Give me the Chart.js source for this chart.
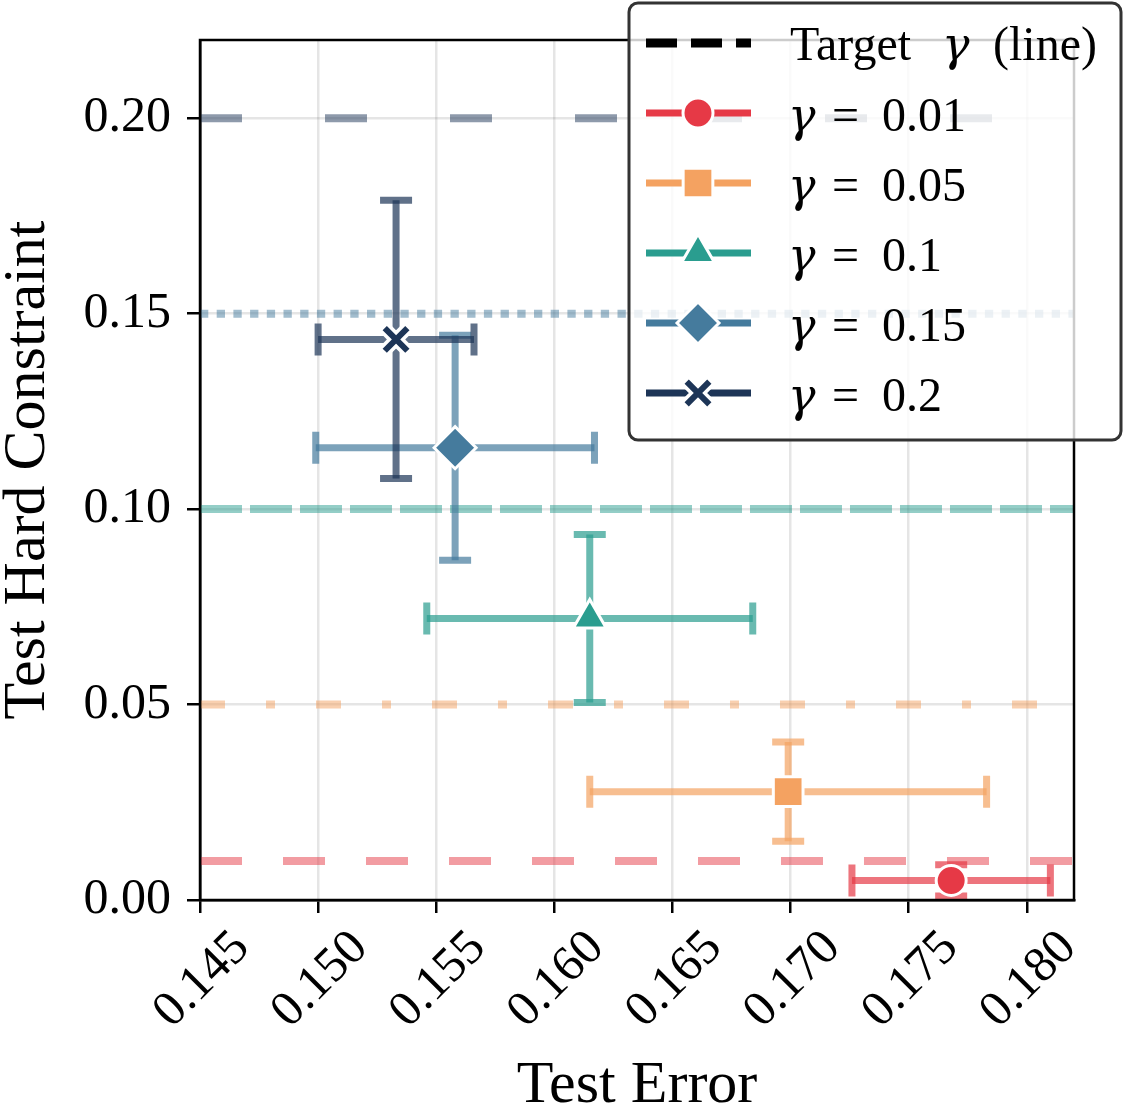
<!DOCTYPE html>
<html>
<head>
<meta charset="utf-8">
<script src="https://cdn.jsdelivr.net/npm/chart.js@4.4.0/dist/chart.umd.min.js"></script>
<style>
  html, body { margin: 0; padding: 0; background: #fff; }
</style>
</head>
<body>
<canvas id="myChart" width="1125" height="1112"></canvas>
<script>
// values
var gammaLabels = ["0.01", "0.05", "0.1", "0.15", "0.2"];
var targetGamma = [0.01, 0.05, 0.1, 0.15, 0.2];
var testError = [0.1768, 0.1699, 0.1615, 0.1558, 0.1533];
var testErrorStd = [0.0042, 0.0084, 0.0069, 0.0059, 0.0033];
var hardConstraint = [0.005, 0.0277, 0.072, 0.1157, 0.1434];
var hardConstraintStd = [0.004, 0.0127, 0.0215, 0.0288, 0.0356];
var xTicks = [0.145, 0.150, 0.155, 0.160, 0.165, 0.170, 0.175, 0.180];
var yTicks = [0.00, 0.05, 0.10, 0.15, 0.20];
var xRange = [0.145, 0.182];
var yRange = [0, 0.22];

var colors = ["#e63946", "#f4a261", "#2a9d8f", "#457b9d", "#1d3557"];
var markers = ["circle", "rect", "triangle", "rectRot", "crossRot"];
var markerSize = [15, 21, 19, 21, 16];
var dashes = [[42, 41], [25, 41, 9, 41], [42, 8], [8.3, 8.4], [42, 83]];
var FONT = '"Liberation Serif", "Times New Roman", serif';
var GFONT = 'italic 46px "DejaVu Serif", serif';

function alpha(hex, a) {
  var r = parseInt(hex.slice(1, 3), 16), g = parseInt(hex.slice(3, 5), 16), b = parseInt(hex.slice(5, 7), 16);
  return "rgba(" + r + "," + g + "," + b + "," + a + ")";
}

var datasets = [];
// target lines (bottom)
for (var i = 0; i < targetGamma.length; i++) {
  datasets.push({
    type: "line",
    data: [{ x: xRange[0], y: targetGamma[i] }, { x: xRange[1], y: targetGamma[i] }],
    borderColor: alpha(colors[i], 0.5),
    borderWidth: 8,
    borderDash: dashes[i],
    pointRadius: 0,
    fill: false,
    order: 100 - i,
  });
}
// markers
for (var i = 0; i < testError.length; i++) {
  var isCross = markers[i] == "crossRot";
  if (isCross) {
    datasets.push({
      type: "scatter",
      data: [{ x: testError[i], y: hardConstraint[i] }],
      pointStyle: "crossRot",
      pointRadius: markerSize[i],
      borderColor: "#fff",
      pointBorderWidth: 13,
      order: 20 - 2 * i + 1,
      errIndex: i,
    });
  }
  datasets.push({
    type: "scatter",
    data: [{ x: testError[i], y: hardConstraint[i] }],
    pointStyle: markers[i],
    pointRadius: markerSize[i],
    backgroundColor: colors[i],
    borderColor: isCross ? colors[i] : "#fff",
    pointBorderWidth: isCross ? 6 : 3,
    order: 20 - 2 * i,
    errIndex: isCross ? undefined : i,
  });
}

var errorBars = {
  id: "errorBars",
  beforeDatasetDraw: function (chart, args) {
    var ds = chart.data.datasets[args.index];
    if (ds.errIndex === undefined) return;
    var i = ds.errIndex;
    var xs = chart.scales.x, ys = chart.scales.y;
    var ctx = chart.ctx;
    var px = xs.getPixelForValue(testError[i]), py = ys.getPixelForValue(hardConstraint[i]);
    var x0 = xs.getPixelForValue(testError[i] - testErrorStd[i]);
    var x1 = xs.getPixelForValue(testError[i] + testErrorStd[i]);
    var y0 = ys.getPixelForValue(hardConstraint[i] - hardConstraintStd[i]);
    var y1 = ys.getPixelForValue(hardConstraint[i] + hardConstraintStd[i]);
    var cap = 16;
    ctx.save();
    ctx.strokeStyle = alpha(colors[i], 0.7);
    ctx.lineWidth = 7;
    ctx.lineCap = "butt";
    ctx.beginPath();
    ctx.moveTo(x0, py); ctx.lineTo(x1, py);
    ctx.moveTo(px, y0); ctx.lineTo(px, y1);
    ctx.stroke();
    ctx.beginPath();
    ctx.moveTo(x0, py - cap); ctx.lineTo(x0, py + cap);
    ctx.moveTo(x1, py - cap); ctx.lineTo(x1, py + cap);
    ctx.moveTo(px - cap, y0); ctx.lineTo(px + cap, y0);
    ctx.moveTo(px - cap, y1); ctx.lineTo(px + cap, y1);
    ctx.stroke();
    ctx.restore();
  },
};

var frameAndLegend = {
  id: "frameAndLegend",
  afterDatasetsDraw: function (chart) {
    var a = chart.chartArea, ctx = chart.ctx;
    ctx.save();
    ctx.strokeStyle = "#000";
    ctx.lineWidth = 2.5;
    ctx.strokeRect(a.left, a.top, a.right - a.left, a.bottom - a.top);
    ctx.restore();
  },
  afterDraw: function (chart) {
    var ctx = chart.ctx;
    ctx.save();
    // box
    var bx = 629, by = 3, bw = 492, bh = 437;
    ctx.beginPath();
    ctx.roundRect(bx, by, bw, bh, 9);
    ctx.fillStyle = "rgba(255,255,255,0.8)";
    ctx.fill();
    ctx.lineWidth = 3;
    ctx.strokeStyle = "#333";
    ctx.stroke();

    var lx0 = 646, lx1 = 751, mx = 698, tx = 790;
    // target line entry
    var ry = 43;
    ctx.strokeStyle = "#000";
    ctx.lineWidth = 9;
    ctx.setLineDash([31, 14]);
    ctx.beginPath();
    ctx.moveTo(lx0, ry); ctx.lineTo(lx1, ry);
    ctx.stroke();
    ctx.setLineDash([]);
    ctx.fillStyle = "#000";
    ctx.textBaseline = "alphabetic";
    ctx.font = "48px " + FONT;
    ctx.fillText("Target", tx, ry + 17);
    ctx.font = GFONT;
    ctx.fillText("\u03b3", 942, ry + 17);
    ctx.font = "48px " + FONT;
    ctx.fillText("(line)", 993, ry + 17);

    for (var i = 0; i < gammaLabels.length; i++) {
      ry = 113 + 70 * i;
      ctx.strokeStyle = colors[i];
      ctx.lineWidth = 7;
      ctx.beginPath();
      ctx.moveTo(lx0, ry); ctx.lineTo(lx1, ry);
      ctx.stroke();
      if (markers[i] == "crossRot") {
        ctx.strokeStyle = "#fff";
        ctx.lineWidth = 13;
        Chart.helpers.drawPoint(ctx, { pointStyle: "crossRot", radius: markerSize[i], borderWidth: 13, rotation: 0 }, mx, ry);
        ctx.strokeStyle = colors[i];
        ctx.lineWidth = 6;
        Chart.helpers.drawPoint(ctx, { pointStyle: "crossRot", radius: markerSize[i], borderWidth: 6, rotation: 0 }, mx, ry);
      } else {
        ctx.fillStyle = colors[i];
        ctx.strokeStyle = "#fff";
        ctx.lineWidth = 3;
        Chart.helpers.drawPoint(ctx, { pointStyle: markers[i], radius: markerSize[i], borderWidth: 3, rotation: 0 }, mx, ry);
      }
      ctx.fillStyle = "#000";
      ctx.font = GFONT;
      ctx.fillText("\u03b3", tx - 2, ry + 18);
      ctx.font = "48px " + FONT;
      ctx.fillText("=", 832, ry + 18);
      ctx.fillText(gammaLabels[i], 882, ry + 18);
    }
    ctx.restore();
  },
};

var ctx = document.getElementById("myChart").getContext("2d");
var myChart = new Chart(ctx, {
  type: "scatter",
  data: { datasets: datasets },
  plugins: [errorBars, frameAndLegend],
  options: {
    responsive: false,
    animation: false,
    events: [],
    layout: { padding: { top: 40, right: 51, left: 0, bottom: 0 } },
    plugins: { legend: { display: false }, tooltip: { enabled: false } },
    scales: {
      x: {
        type: "linear",
        min: xRange[0],
        max: xRange[1],
        afterBuildTicks: function (scale) {
          scale.ticks = xTicks.map(function (v) { return { value: v }; });
        },
        afterFit: function (scale) { scale.height = 212; scale.paddingLeft = 0; scale.paddingRight = 0; },
        grid: { color: "rgba(0,0,0,0.1)", lineWidth: 2.5, tickColor: "#000", tickWidth: 2.5, tickLength: 13 },
        border: { display: true, color: "#000", width: 2.5 },
        ticks: {
          minRotation: 45, maxRotation: 45, autoSkip: false, padding: 6, labelOffset: 42,
          color: "#000", font: { family: FONT, size: 50 },
          callback: function (v) { return v.toFixed(3); },
        },
        title: { display: true, text: "Test Error", color: "#000", font: { family: FONT, size: 60, lineHeight: 1 }, padding: { top: 0, bottom: -4 } },
      },
      y: {
        type: "linear",
        min: yRange[0],
        max: yRange[1],
        afterBuildTicks: function (scale) {
          scale.ticks = yTicks.map(function (v) { return { value: v }; });
        },
        afterFit: function (scale) { scale.width = 200; scale.paddingTop = 0; scale.paddingBottom = 0; },
        grid: { color: "rgba(0,0,0,0.1)", lineWidth: 2.5, tickColor: "#000", tickWidth: 2.5, tickLength: 13 },
        border: { display: true, color: "#000", width: 2.5 },
        ticks: {
          padding: 16, color: "#000", font: { family: FONT, size: 50 },
          callback: function (v) { return v.toFixed(2); },
        },
        title: { display: true, text: "Test Hard Constraint", color: "#000", font: { family: FONT, size: 60, lineHeight: 1 }, padding: { top: -2, bottom: 0 } },
      },
    },
  },
});
</script>
</body>
</html>
